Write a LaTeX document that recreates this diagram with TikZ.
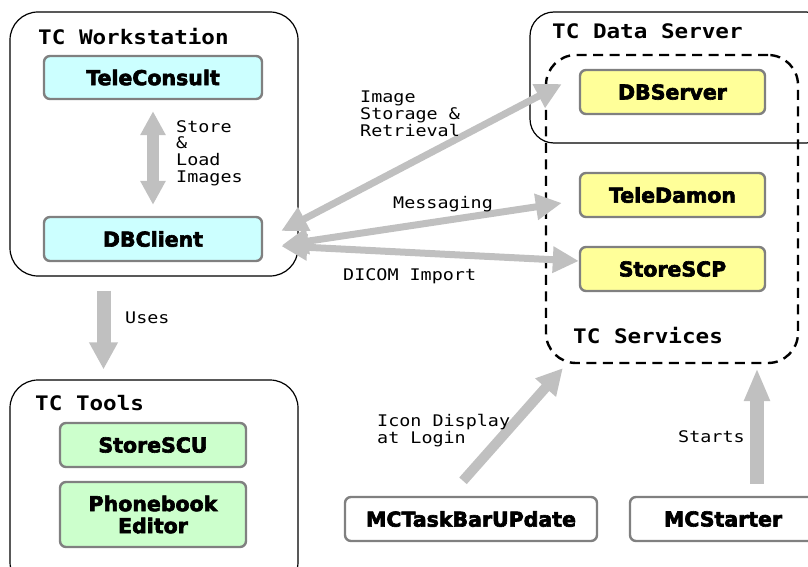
\documentclass[tikz,border=0pt]{standalone}
\usepackage{fontspec}
\usetikzlibrary{arrows.meta,calc}
\newfontfamily\lblfont{DejaVu Sans Mono}[FakeStretch=1.15]
\newfontfamily\ttlfont{DejaVu Sans Mono Bold}[FakeStretch=1.13]
\newfontfamily\boxfont{DejaVu Sans Bold}[FakeBold=3]
\definecolor{arrowgray}{HTML}{C0C0C0}
\definecolor{edgegray}{HTML}{808080}
\definecolor{wscyan}{HTML}{CCFFFF}
\definecolor{svyellow}{HTML}{FFFF99}
\definecolor{toolgreen}{HTML}{CCFFCC}
\tikzset{
  group/.style={draw=black, line width=1.2pt, rounded corners=28pt, inner sep=0pt},
  dashgroup/.style={draw=black, line width=2.4pt, dash pattern=on 10pt off 6.5pt, rounded corners=30pt, inner sep=0pt},
  comp/.style={draw=edgegray, line width=2.4pt, rounded corners=6pt, inner sep=0pt,
    font=\boxfont\fontsize{20.5}{23}\selectfont, align=center},
  title/.style={font=\ttlfont\fontsize{20}{24}\selectfont, inner sep=0pt, anchor=base west},
  lbl/.style={font=\lblfont\fontsize{16}{16.5}\selectfont, inner sep=0pt, anchor=base west, align=left},
  flow/.style={draw=arrowgray, line width=8pt, -{Triangle[length=26pt,width=26pt]}},
  biflow/.style={draw=arrowgray, line width=7pt, {Triangle[length=26pt,width=25pt]}-{Triangle[length=26pt,width=25pt]}},
  wideflow/.style={draw=arrowgray, line width=14pt, -{Triangle[length=27pt,width=27pt]}},
}
\begin{document}
\begin{tikzpicture}[x=1pt,y=-1pt]
\useasboundingbox (0,0) rectangle (808,567);
\clip (0,0) rectangle (808,567);

% group frames
\node[group, minimum width=288pt, minimum height=264pt] (ws) at (154,144) {};
\node[group, minimum width=288pt, minimum height=210pt] (tools) at (154,485) {};
\node[group, rounded corners=24pt, minimum width=300pt, minimum height=131pt] (ds) at (680,77.5) {};
\node[dashgroup, minimum width=252pt, minimum height=308pt] (svc) at (672,209) {};

% group titles
\node[title] (wst) at (38,45) {TC Workstation};
\node[title] (dst) at (552,39) {TC Data Server};
\node[title] (svt) at (573,343) {TC Services};
\node[title] (tot) at (35,410) {TC Tools};

% workstation components
\node[comp, fill=wscyan, minimum width=218pt, minimum height=43pt] (tc) at (153,77.5) {TeleConsult};
\node[comp, fill=wscyan, minimum width=218pt, minimum height=44pt] (dbc) at (153,239) {DBClient};

% server components
\node[comp, fill=svyellow, minimum width=185pt, minimum height=44pt] (dbs) at (672.5,92) {DBServer};
\node[comp, fill=svyellow, minimum width=185pt, minimum height=44pt] (td) at (672.5,195) {TeleDamon};
\node[comp, fill=svyellow, minimum width=185pt, minimum height=44pt] (scp) at (672.5,269) {StoreSCP};

% tools
\node[comp, fill=toolgreen, minimum width=186pt, minimum height=44pt] (scu) at (153,445) {StoreSCU};
\node[comp, fill=toolgreen, minimum width=186pt, minimum height=65pt] (pb) at (153,514.5) {Phonebook\\[-1pt]Editor};

% helper programs
\node[comp, fill=white, minimum width=252pt, minimum height=44pt] (mct) at (471,519) {MCTaskBarUPdate};
\node[comp, fill=white, minimum width=186pt, minimum height=44pt] (mcs) at (723,519) {MCStarter};

% arrow end points
\coordinate (tcB) at ($(tc.south)+(0,11)$);
\coordinate (dbcT) at ($(dbc.north)+(0,-11)$);
\coordinate (dbcE1) at ($(dbc.east)+(18,-8)$);
\coordinate (dbcE2) at ($(dbc.east)+(19,6)$);
\coordinate (dbcE3) at ($(dbc.east)+(18,7)$);
\coordinate (dbsW) at ($(dbs.west)+(-17,-8)$);
\coordinate (tdW) at ($(td.west)+(-17,8)$);
\coordinate (scpW) at ($(scp.west)+(0,-8)$);
\coordinate (wsU) at ($(ws.south)+(-50.5,14)$);
\coordinate (toU) at ($(tools.north)+(-50.5,-10)$);
\coordinate (mctU) at ($(mct.north)+(-8,-15)$);
\coordinate (svcL) at ($(svc.south west)+(18,4)$);
\coordinate (mcsU) at ($(mcs.north)+(34,-12)$);
\coordinate (svcR) at ($(svc.south)+(85,4)$);

% connectors
\draw[biflow, line width=12pt, {Triangle[length=24pt,width=24pt]}-{Triangle[length=24pt,width=24pt]}] (tcB) -- (dbcT);
\draw[wideflow] (wsU) -- (toU);
\draw[biflow] (dbcE1) -- (dbsW);
\draw[biflow] (dbcE2) -- (tdW);
\draw[biflow] (dbcE3) -- (scpW);
\draw[flow, line width=10pt] (mctU) -- (svcL);
\draw[wideflow, -{Triangle[length=33pt,width=24pt]}] (mcsU) -- (svcR);

% connector labels (anchored on the baseline of their last line)
\node[lbl] (l1) at (176,182) {Store\\\&\\Load\\Images};
\node[lbl] (l2) at (360,136) {Image\\Storage \&\\Retrieval};
\node[lbl] (l3) at (393,208) {Messaging};
\node[lbl] (l4) at (343,280) {DICOM Import};
\node[lbl] (l5) at (125,323) {Uses};
\node[lbl] (l6) at (377,443) {Icon Display\\at Login};
\node[lbl] (l7) at (678,442) {Starts};
\end{tikzpicture}
\end{document}
